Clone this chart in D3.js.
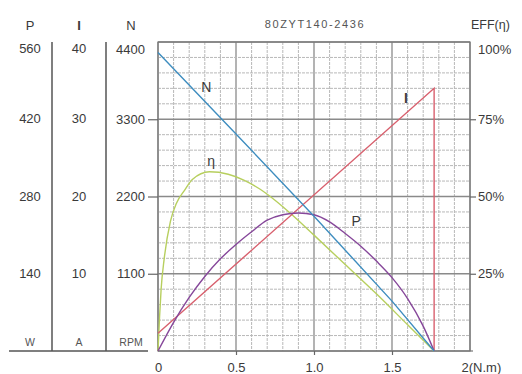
<!DOCTYPE html>
<html>
<head>
<meta charset="utf-8">
<script src="https://cdn.jsdelivr.net/npm/d3@7"></script>
<style>
  body { margin: 0; background: #fff; }
  text { font-family: "Liberation Sans", Arial, sans-serif; fill: #3a3a3a; }
</style>
</head>
<body>
<svg id="chart" width="522" height="374"></svg>
<script>
// Values.
var nTorque = [0, 0.5, 1.0, 1.5, 1.77];
var nSpeed = [4250, 3090, 1920, 710, 0];

var iTorque = [0, 1.77, 1.77];
var iCurrent = [2.3, 34, 0];

var pTorque = [0, 0.1, 0.2, 0.3, 0.4, 0.5, 0.6, 0.7, 0.8, 0.9, 1.0, 1.1, 1.2, 1.3, 1.4, 1.5, 1.6, 1.7, 1.77];
var pPower = [0, 52, 97, 135, 167, 193, 216, 237, 247, 250, 247, 234, 213, 190, 163, 133, 95, 45, 0];

var eTorque = [0, 0.01, 0.02, 0.04, 0.08, 0.12, 0.17, 0.22, 0.33, 0.45, 0.55, 0.65, 0.75, 0.85, 1.0, 1.2, 1.4, 1.6, 1.77];
var eEff = [0, 11, 20, 30, 42, 48, 52, 55.5, 58, 57.2, 55.3, 52.5, 48.8, 44.5, 37.5, 28, 18.5, 8.5, 0];

var pTicks = [140, 280, 420, 560];
var iTicks = [10, 20, 30, 40];
var nTicks = [1100, 2200, 3300, 4400];
var effTicks = [25, 50, 75, 100];
var torqueTicks = [0, 0.5, 1.0, 1.5, 2];

var title = '80ZYT140-2436';

var svg = d3.select('#chart');

// Plot box.
var plotLeft = 158, plotRight = 470, plotTop = 42, plotBottom = 351;

// Scales, one per quantity, all sharing the same plot box.
var x = d3.scaleLinear().domain([0, 2]).range([plotLeft, plotRight]);
var yN = d3.scaleLinear().domain([0, 4400]).range([plotBottom, plotTop]);
var yP = d3.scaleLinear().domain([0, 560]).range([plotBottom, plotTop]);
var yI = d3.scaleLinear().domain([0, 40]).range([plotBottom, plotTop]);
var yE = d3.scaleLinear().domain([0, 100]).range([plotBottom, plotTop]);

// Grid.
var grid = svg.append('g').attr('class', 'grid');
var isMajorX = function(d) { return Math.abs(d * 2 - Math.round(d * 2)) < 1e-6; };
var isMajorY = function(d) { return d % 25 === 0; };

grid.selectAll('.vx')
    .data(x.ticks(20))
  .enter().append('line')
    .attr('x1', function(d) { return x(d); })
    .attr('x2', function(d) { return x(d); })
    .attr('y1', plotTop)
    .attr('y2', plotBottom)
    .style('stroke', function(d) { return isMajorX(d) ? '#8a8a8a' : '#b8b8b8'; })
    .style('stroke-width', function(d) { return isMajorX(d) ? 1.3 : 1; })
    .style('stroke-dasharray', function(d) { return isMajorX(d) ? null : '3,1'; });

grid.selectAll('.hy')
    .data(yE.ticks(20))
  .enter().append('line')
    .attr('x1', plotLeft)
    .attr('x2', plotRight)
    .attr('y1', function(d) { return yE(d); })
    .attr('y2', function(d) { return yE(d); })
    .style('stroke', function(d) { return isMajorY(d) ? '#8a8a8a' : '#b8b8b8'; })
    .style('stroke-width', function(d) { return isMajorY(d) ? 1.3 : 1; })
    .style('stroke-dasharray', function(d) { return isMajorY(d) ? null : '3,1'; });

svg.append('rect')
    .attr('x', plotLeft)
    .attr('y', plotTop)
    .attr('width', plotRight - plotLeft)
    .attr('height', plotBottom - plotTop)
    .style('fill', 'none')
    .style('stroke', '#777')
    .style('stroke-width', 1.2);

// Axes.
var styleAxis = function(g) {
  g.select('.domain').remove();
  g.selectAll('line').style('stroke', '#666').style('stroke-width', 1.2);
  g.selectAll('text')
      .style('font-family', '"Liberation Sans", Arial, sans-serif')
      .style('font-size', '13px')
      .style('fill', '#3a3a3a');
};

var xAxis = svg.append('g')
    .attr('transform', 'translate(0,' + plotBottom + ')')
    .call(d3.axisBottom(x).tickValues(torqueTicks).tickSize(4).tickPadding(8)
        .tickFormat(function(d) { return d === 2 ? '2(N.m)' : d === 0 ? '0' : d3.format('.1f')(d); }))
    .call(styleAxis);
xAxis.selectAll('.tick').filter(function(d) { return d === 2; }).select('text')
    .attr('text-anchor', 'start')
    .attr('dx', -9);
xAxis.selectAll('.tick').filter(function(d) { return d === 0 || d === 2; }).select('line').remove();
svg.append('line')
    .attr('x1', plotRight).attr('x2', plotRight + 3)
    .attr('y1', plotBottom).attr('y2', plotBottom)
    .style('stroke', '#777').style('stroke-width', 1.2);

var nAxis = svg.append('g')
    .attr('transform', 'translate(' + plotLeft + ',0)')
    .call(d3.axisLeft(yN).tickValues(nTicks).tickSize(10).tickPadding(3).tickFormat(d3.format('d')))
    .call(styleAxis);
nAxis.selectAll('.tick').filter(function(d) { return d === 4400; }).select('line').remove();
nAxis.selectAll('.tick').filter(function(d) { return d === 4400; }).select('text').attr('dy', '0.85em');

var eAxis = svg.append('g')
    .attr('transform', 'translate(' + plotRight + ',0)')
    .call(d3.axisRight(yE).tickValues(effTicks).tickSize(6).tickPadding(2)
        .tickFormat(function(d) { return d + '%'; }))
    .call(styleAxis);
eAxis.selectAll('.tick').filter(function(d) { return d === 100; }).select('line').remove();
eAxis.selectAll('.tick').filter(function(d) { return d === 100; }).select('text').attr('dy', '0.85em');

// Left columns for P and I, plus the headers over the N axis.
var columns = [
  {name: 'P', unit: 'W', x: 30, scale: yP, ticks: pTicks, bold: false},
  {name: 'I', unit: 'A', x: 79, scale: yI, ticks: iTicks, bold: true},
  {name: 'N', unit: 'RPM', x: 131, scale: null, ticks: [], bold: false}
];

columns.forEach(function(col) {
  svg.append('text')
      .attr('x', col.x)
      .attr('y', 25)
      .attr('dy', '0.35em')
      .attr('text-anchor', 'middle')
      .style('font-size', '13px')
      .style('font-weight', col.bold ? 'bold' : 'normal')
      .text(col.name);
  svg.append('text')
      .attr('x', col.x)
      .attr('y', 342)
      .attr('dy', '0.35em')
      .attr('text-anchor', 'middle')
      .style('font-size', '10.5px')
      .style('fill', '#555')
      .text(col.unit);
  svg.selectAll(null)
      .data(col.ticks)
    .enter().append('text')
      .attr('x', col.x)
      .attr('y', function(d) { return col.scale(d); })
      .attr('dy', function(d, i) { return i === col.ticks.length - 1 ? '0.85em' : '0.32em'; })
      .attr('text-anchor', 'middle')
      .style('font-size', '13px')
      .text(function(d) { return d; });
});

// Column separators and the bottom rule.
[52, 106].forEach(function(sx) {
  svg.append('line')
      .attr('x1', sx).attr('x2', sx)
      .attr('y1', plotTop).attr('y2', plotBottom)
      .style('stroke', '#555').style('stroke-width', 1.5);
});
svg.append('line')
    .attr('x1', 9).attr('x2', 148)
    .attr('y1', plotBottom).attr('y2', plotBottom)
    .style('stroke', '#555').style('stroke-width', 1.5);

// Titles.
svg.append('text')
    .attr('x', 315)
    .attr('y', 24)
    .attr('dy', '0.35em')
    .attr('text-anchor', 'middle')
    .style('font-size', '11px')
    .style('letter-spacing', '1.6px')
    .style('fill', '#555')
    .text(title);

svg.append('text')
    .attr('x', 471)
    .attr('y', 25)
    .attr('dy', '0.35em')
    .style('font-size', '12.5px')
    .text('EFF(η)');

// Curves.
var curves = svg.append('g').attr('class', 'curves');

var lineN = d3.line()
    .x(function(d, i) { return x(nTorque[i]); })
    .y(function(d) { return yN(d); });
var lineI = d3.line()
    .x(function(d, i) { return x(iTorque[i]); })
    .y(function(d) { return yI(d); });
var lineP = d3.line()
    .x(function(d, i) { return x(pTorque[i]); })
    .y(function(d) { return yP(d); })
    .curve(d3.curveMonotoneX);
var lineE = d3.line()
    .x(function(d, i) { return x(eTorque[i]); })
    .y(function(d) { return yE(d); })
    .curve(d3.curveMonotoneX);

curves.append('path').datum(eEff).attr('d', lineE)
    .style('fill', 'none').style('stroke', '#b7cf5e').style('stroke-width', 1.4);
curves.append('path').datum(iCurrent).attr('d', lineI)
    .style('fill', 'none').style('stroke', '#d8606e').style('stroke-width', 1.4);
curves.append('path').datum(pPower).attr('d', lineP)
    .style('fill', 'none').style('stroke', '#86479a').style('stroke-width', 1.4);
curves.append('path').datum(nSpeed).attr('d', lineN)
    .style('fill', 'none').style('stroke', '#3e8dbf').style('stroke-width', 1.4);

// Curve labels.
var curveLabels = [
  {text: 'N', x: 0.31, y: yN(3760), bold: false},
  {text: 'η', x: 0.34, y: yE(61.5), bold: false},
  {text: 'I', x: 1.59, y: yI(32.8), bold: true},
  {text: 'P', x: 1.27, y: yP(236), bold: false}
];
svg.selectAll('.curve-label')
    .data(curveLabels)
  .enter().append('text')
    .attr('class', 'curve-label')
    .attr('x', function(d) { return x(d.x); })
    .attr('y', function(d) { return d.y; })
    .attr('dy', '0.35em')
    .attr('text-anchor', 'middle')
    .style('font-size', '14px')
    .style('font-weight', function(d) { return d.bold ? 'bold' : 'normal'; })
    .text(function(d) { return d.text; });
</script>
</body>
</html>
